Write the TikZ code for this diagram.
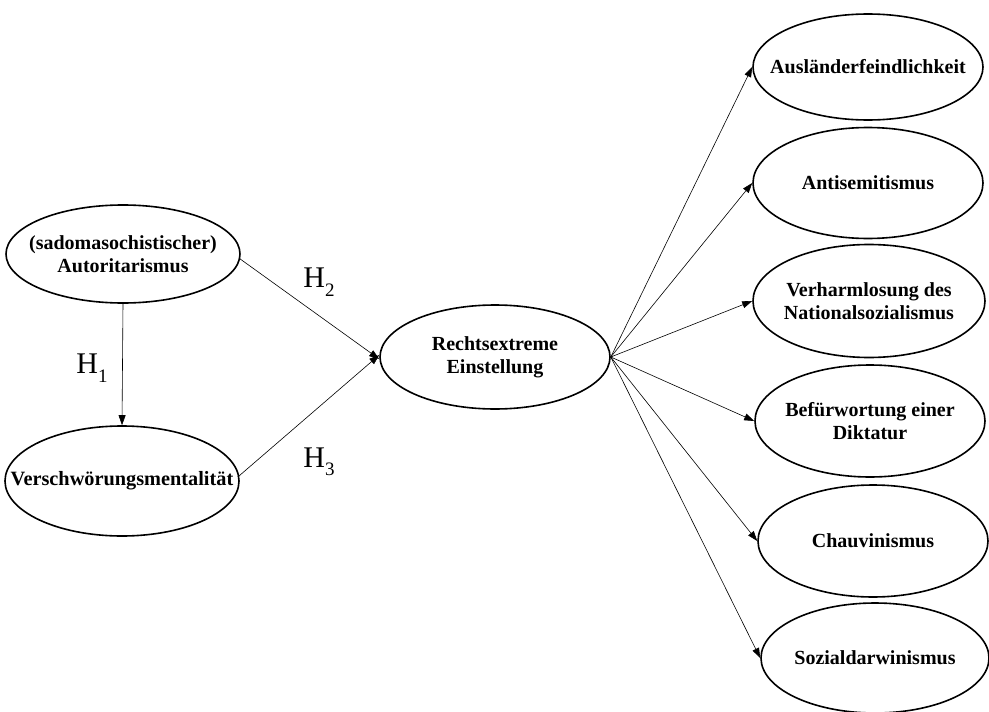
\documentclass[tikz,border=0pt]{standalone}
\usepackage{fontspec}
\setmainfont{Liberation Serif}
\usetikzlibrary{shapes.geometric,arrows.meta}
\newcommand{\hyp}[1]{H\raisebox{-0.28em}{\fontsize{19}{19}\selectfont #1}}
\begin{document}
\begin{tikzpicture}[x=1pt,y=-1pt,
  ell/.style={ellipse,draw,line width=1.6pt,inner sep=0pt},
  lbl/.style={inner sep=0pt,align=center,font=\fontsize{20}{23}\selectfont\bfseries},
  conn/.style={line width=0.6pt,-{Triangle[length=10pt,width=7pt]}},
  hlab/.style={font=\fontsize{30}{30}\selectfont,inner sep=0pt}]
\useasboundingbox (0,0) rectangle (989,712);
\node[ell,minimum width=234pt,minimum height=98pt] (auto) at (123,254) {};
\node[ell,minimum width=234pt,minimum height=110pt] (versch) at (122,481) {};
\node[ell,minimum width=230pt,minimum height=104pt] (rechts) at (495,357) {};
\node[ell,minimum width=230pt,minimum height=106pt] (r1) at (868,67) {};
\node[ell,minimum width=230pt,minimum height=111pt] (r2) at (868,183) {};
\node[ell,minimum width=232pt,minimum height=113pt] (r3) at (869,301) {};
\node[ell,minimum width=230pt,minimum height=112pt] (r4) at (870,421) {};
\node[ell,minimum width=230pt,minimum height=112pt] (r5) at (873,541) {};
\node[ell,minimum width=228pt,minimum height=110pt] (r6) at (875,658) {};
\node[lbl] (tauto) at (auto) {(sadomasochistischer)\\Autoritarismus};
\node[lbl,font=\fontsize{20.3}{23}\selectfont\bfseries] (tversch) at (versch) {Verschwörungsmentalität};
\node[lbl] (trechts) at (rechts) {Rechtsextreme\\Einstellung};
\node[lbl] (tr1) at (r1) {Ausländerfeindlichkeit};
\node[lbl] (tr2) at (r2) {Antisemitismus};
\node[lbl] (tr3) at (r3) {Verharmlosung des\\Nationalsozialismus};
\node[lbl] (tr4) at (r4) {Befürwortung einer\\Diktatur};
\node[lbl] (tr5) at (r5) {Chauvinismus};
\node[lbl] (tr6) at (r6) {Sozialdarwinismus};
\draw[conn] (auto.south) -- (versch.north);
\draw[conn] (auto.east) ++(-2,4) coordinate (ae) -- ([yshift=-2pt]rechts.west);
\draw[conn] (versch.east) ++(-2,-4) coordinate (ve) -- ([yshift=2pt]rechts.west);
\foreach \n in {r1,r2,r3,r4,r5,r6}{
  \draw[conn] (rechts.east) -- (\n.west);
}
\node[hlab] (h1) at (92,368) {\hyp{1}};
\node[hlab] (h2) at (319,282) {\hyp{2}};
\node[hlab] (h3) at (319,462) {\hyp{3}};
\end{tikzpicture}
\end{document}
